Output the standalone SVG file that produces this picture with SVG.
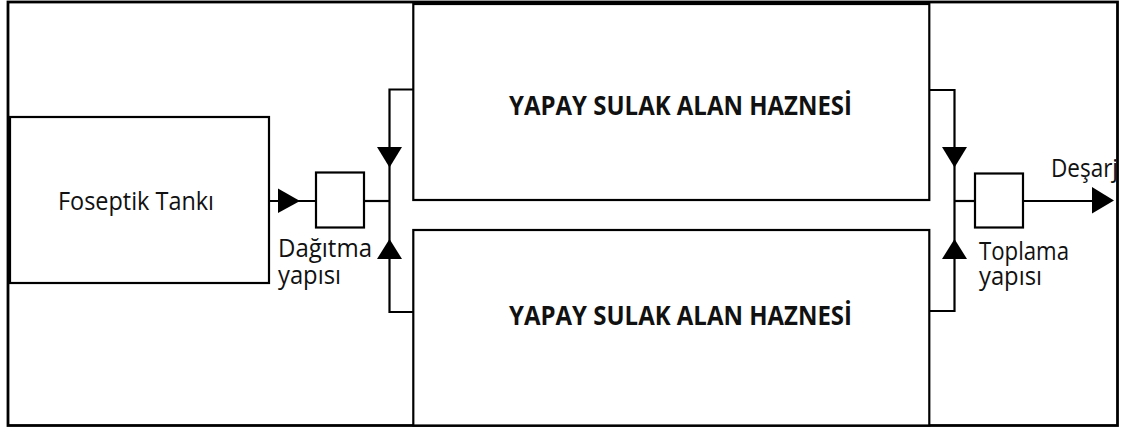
<svg xmlns="http://www.w3.org/2000/svg" width="1126" height="430" viewBox="0 0 1126 430">
<style>
.box{fill:#fff;stroke:#000;stroke-width:2.2}
.ln{fill:none;stroke:#000;stroke-width:2.2}
.ah{fill:#000;stroke:none}
.t{font-family:"Open Sans","Liberation Sans",sans-serif;font-size:25.5px;fill:#111}
.tb{font-family:"Open Sans","Liberation Sans",sans-serif;font-size:26.5px;font-weight:bold;fill:#111}
</style>
<rect x="0" y="0" width="1126" height="430" fill="#fff"/>
<g id="frame"><rect x="8" y="2" width="1109.5" height="423.5" fill="none" stroke="#000" stroke-width="2.8"/></g>
<g id="connectors">
<line class="ln" x1="269" y1="201" x2="316" y2="201"/>
<polygon class="ah" points="278,188.5 300,201 278,213"/>
<line class="ln" x1="364" y1="201" x2="389.5" y2="201"/>
<polyline class="ln" points="413,89.5 389.5,89.5 389.5,312 413,312"/>
<polygon class="ah" points="377,147 402,147 389.5,167.5"/>
<polygon class="ah" points="377,259 402,259 389.5,239"/>
<polyline class="ln" points="929,90 954.5,90 954.5,311 929,311"/>
<polygon class="ah" points="942,147 967,147 954.5,167.5"/>
<polygon class="ah" points="942,259 967,259 954.5,239"/>
<line class="ln" x1="954.5" y1="201" x2="975" y2="201"/>
<line class="ln" x1="1023" y1="201" x2="1092" y2="201"/>
<polygon class="ah" points="1092,187 1114,200.5 1092,213.5"/>
</g>
<g id="foseptik"><rect class="box" x="10" y="117" width="259" height="166"/><text class="t" x="58" y="210" textLength="156" lengthAdjust="spacingAndGlyphs">Foseptik Tankı</text></g>
<g id="dagitma"><rect class="box" x="316" y="172.5" width="48" height="55"/><text class="t"><tspan x="278" y="257" textLength="94" lengthAdjust="spacingAndGlyphs">Dağıtma</tspan><tspan x="278" y="284" textLength="63" lengthAdjust="spacingAndGlyphs">yapısı</tspan></text></g>
<g id="hazne1"><rect class="box" x="413.3" y="4" width="516" height="196"/><text class="tb" x="509" y="115" textLength="343" lengthAdjust="spacingAndGlyphs">YAPAY SULAK ALAN HAZNESİ</text></g>
<g id="hazne2"><rect class="box" x="413.3" y="230" width="516" height="195.5"/><text class="tb" x="509" y="325" textLength="343" lengthAdjust="spacingAndGlyphs">YAPAY SULAK ALAN HAZNESİ</text></g>
<g id="toplama"><rect class="box" x="975" y="173.5" width="48" height="54"/><text class="t"><tspan x="979" y="260" textLength="90" lengthAdjust="spacingAndGlyphs">Toplama</tspan><tspan x="979" y="285" textLength="63" lengthAdjust="spacingAndGlyphs">yapısı</tspan></text></g>
<g id="desarj"><text class="t" x="1051" y="177" textLength="67" lengthAdjust="spacingAndGlyphs">Deşarj</text></g>
</svg>
